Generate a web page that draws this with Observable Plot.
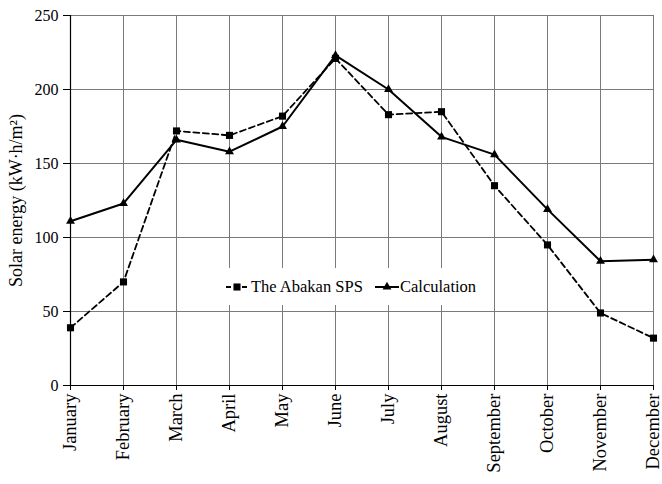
<!DOCTYPE html>
<html>
<head>
<meta charset="utf-8">
<script src="https://cdn.jsdelivr.net/npm/d3@7"></script>
<script src="https://cdn.jsdelivr.net/npm/@observablehq/plot@0.6"></script>
<style>
  html, body { margin: 0; padding: 0; background: #fff; }
  #chart svg { display: block; }
</style>
</head>
<body>
<div id="chart"></div>
<script>
const months = ["January","February","March","April","May","June","July","August","September","October","November","December"];
const abakanSPS = [39, 70, 172, 169, 182, 221, 183, 185, 135, 95, 49, 32];
const calculation = [111, 123, 166, 158, 175, 223, 200, 168, 156, 119, 84, 85];
const yTicks = [0, 50, 100, 150, 200, 250];
const seriesNames = ["The Abakan SPS", "Calculation"];
const yLabel = "Solar energy (kW\u00B7h/m\u00B2)";

const spsData = months.map((m, i) => ({month: m, value: abakanSPS[i]}));
const calcData = months.map((m, i) => ({month: m, value: calculation[i]}));

const font = "'Liberation Serif', 'Times New Roman', serif";

const chart = Plot.plot({
  width: 662,
  height: 484,
  marginLeft: 70,
  marginRight: 9,
  marginTop: 15,
  marginBottom: 99,
  style: {fontFamily: font, fontSize: "15px", color: "#000", background: "#fff"},
  x: {type: "point", domain: months, padding: 0, label: null},
  y: {domain: [0, 250], ticks: yTicks, label: null},
  marks: [
    Plot.gridY(yTicks, {stroke: "#7a7a7a", strokeOpacity: 1, strokeWidth: 1}),
    Plot.gridX(months, {stroke: "#7a7a7a", strokeOpacity: 1, strokeWidth: 1}),
    Plot.ruleX([months[0]], {stroke: "#000", strokeWidth: 1.2}),
    Plot.ruleY([0], {stroke: "#000", strokeWidth: 1.2}),
    Plot.axisY(yTicks, {tickSize: 7, tickPadding: 5, fontSize: 16, stroke: "#000"}),
    Plot.axisX(months, {tickSize: 5, tickPadding: 3, tickRotate: -90, fontSize: 18.5, stroke: "#000"}),
    Plot.text([yLabel], {frameAnchor: "left", textAnchor: "middle", rotate: -90, dx: -54, fontSize: 18, fill: "#000"}),
    Plot.line(spsData, {x: "month", y: "value", stroke: "#000", strokeWidth: 1.8, strokeDasharray: "6,3.5"}),
    Plot.line(calcData, {x: "month", y: "value", stroke: "#000", strokeWidth: 2}),
    Plot.dot(spsData, {x: "month", y: "value", symbol: "square", r: 4, fill: "#000", stroke: "none"}),
    Plot.dot(calcData, {x: "month", y: "value", symbol: "triangle", r: 3.3, fill: "#000", stroke: "none"})
  ]
});

// Legend drawn inside the plot area, with white background covering gridlines
const svg = d3.select(chart);
const g = svg.append("g").attr("font-family", font).attr("font-size", 16.5).attr("text-anchor", "start");
g.append("rect").attr("x", 213).attr("y", 268).attr("width", 273).attr("height", 37).attr("fill", "#fff");
const ly = 287;
// item 1
g.append("line").attr("x1", 226).attr("x2", 247).attr("y1", ly).attr("y2", ly)
  .attr("stroke", "#000").attr("stroke-width", 1.8).attr("stroke-dasharray", "5,3");
g.append("path").attr("d", d3.symbol(d3.symbolSquare, Math.PI * 16)()).attr("transform", `translate(237,${ly})`).attr("fill", "#000");
g.append("text").attr("x", 251).attr("y", ly).attr("dy", "0.33em").attr("text-anchor", "start").text(seriesNames[0]);
// item 2
g.append("line").attr("x1", 375).attr("x2", 399).attr("y1", ly).attr("y2", ly)
  .attr("stroke", "#000").attr("stroke-width", 2);
g.append("path").attr("d", d3.symbol(d3.symbolTriangle, Math.PI * 3.3 * 3.3)()).attr("transform", `translate(387,${ly})`).attr("fill", "#000");
g.append("text").attr("x", 400).attr("y", ly).attr("dy", "0.33em").attr("text-anchor", "start").text(seriesNames[1]);

document.getElementById("chart").appendChild(chart);
</script>
</body>
</html>
